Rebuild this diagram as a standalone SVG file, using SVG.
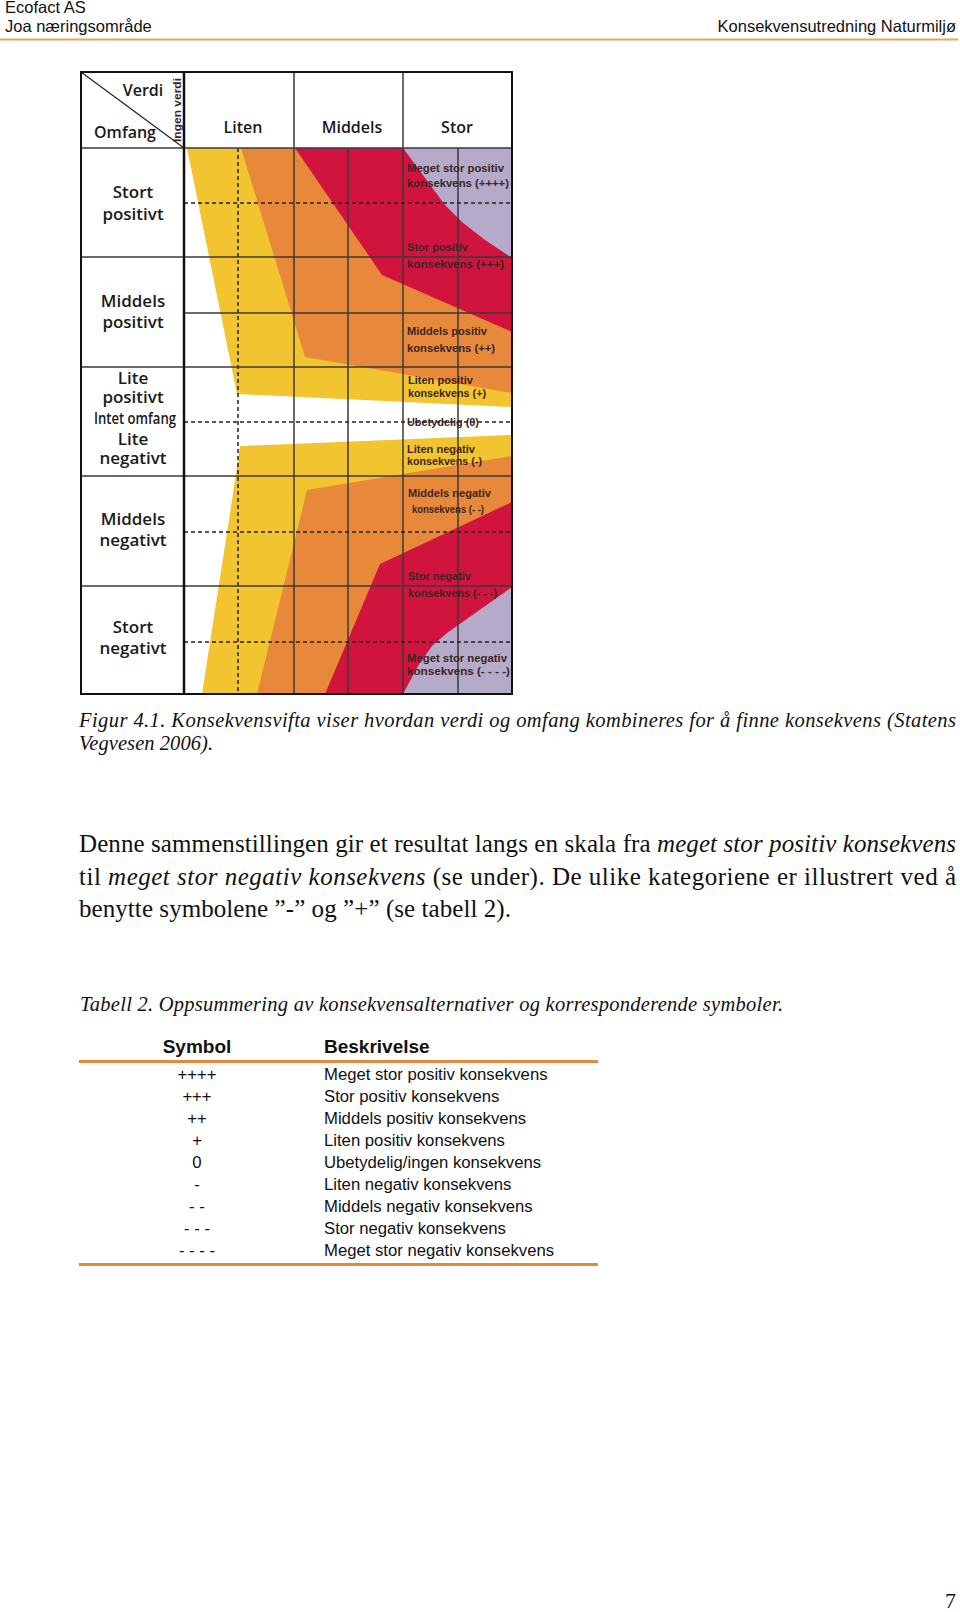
<svg xmlns="http://www.w3.org/2000/svg" width="960" height="1612" viewBox="0 0 960 1612">
<style>
.hdr{font-family:"Liberation Sans",Arial,sans-serif;font-size:16.5px;fill:#111}
.cap{font-family:"Liberation Serif","Times New Roman",serif;font-style:italic;font-size:20.5px;fill:#111}
.body{font-family:"Liberation Serif","Times New Roman",serif;font-size:25px;fill:#111}
.it{font-style:italic}
.big{font-family:"Open Sans","Noto Sans",sans-serif;font-weight:600;font-size:17px;fill:#1a1a1a;text-anchor:middle}
.col{font-family:"Open Sans","Noto Sans",sans-serif;font-weight:600;font-size:16px;fill:#1a1a1a;text-anchor:middle}
.sm{font-family:"Liberation Sans",Arial,sans-serif;font-weight:bold;font-size:11.5px;fill:#3a2626}
.th{font-family:"Liberation Sans",Arial,sans-serif;font-weight:bold;font-size:19px;fill:#111}
.td{font-family:"Liberation Sans",Arial,sans-serif;font-size:16.7px;fill:#111}
.mid{text-anchor:middle}
.g{stroke:#3a3a3a;stroke-width:1.5;fill:none}
.d{stroke:#222;stroke-width:1.5;stroke-dasharray:4 3;fill:none}
.ol{stroke:#e08a3c;stroke-width:3}
</style>

<g id="page-header">
<text class="hdr" x="5" y="13">Ecofact AS</text>
<text class="hdr" x="5" y="32">Joa næringsområde</text>
<text class="hdr" x="956" y="32" text-anchor="end">Konsekvensutredning Naturmiljø</text>
<line x1="0" y1="39.5" x2="958" y2="39.5" stroke="#e8a35e" stroke-width="2"/>
</g>

<g id="chart">
<rect x="81" y="72" width="431" height="622" fill="#fff"/>
<g id="fills">
<polygon fill="#f2c530" points="187,148 512,148 512,407 237,394"/>
<polygon fill="#e8883a" points="241,148 512,148 512,393 305,357"/>
<polygon fill="#d0143e" points="295,148 512,148 512,332 382,275"/>
<polygon fill="#b6aacb" points="403,148 512,148 512,258 485,240 462,222 445,205"/>
<polygon fill="#f2c530" points="240,446 512,435 512,694 202,694 232,500"/>
<polygon fill="#e8883a" points="307,490 512,456 512,694 257,694"/>
<polygon fill="#d0143e" points="380,564 512,502 512,694 325,694"/>
<polygon fill="#b6aacb" points="447,633 512,587 512,694 403,694 418,666 432,646"/>
</g>
<g id="grid">
<line class="g" x1="294" y1="72" x2="294" y2="694"/>
<line class="g" x1="403" y1="72" x2="403" y2="694"/>
<line class="g" x1="348" y1="148" x2="348" y2="694"/>
<line class="g" x1="458" y1="148" x2="458" y2="694"/>
<line class="d" x1="238" y1="148" x2="238" y2="694"/>
<line class="g" x1="81" y1="148" x2="512" y2="148"/>
<line class="g" x1="81" y1="257" x2="512" y2="257"/>
<line class="g" x1="81" y1="367" x2="512" y2="367"/>
<line class="g" x1="81" y1="476" x2="512" y2="476"/>
<line class="g" x1="81" y1="586" x2="512" y2="586"/>
<line class="d" x1="184" y1="203" x2="512" y2="203"/>
<line class="g" x1="184" y1="313" x2="512" y2="313"/>
<line class="d" x1="184" y1="422" x2="512" y2="422"/>
<line class="d" x1="184" y1="532" x2="512" y2="532"/>
<line class="d" x1="184" y1="642" x2="512" y2="642"/>
<line x1="184" y1="72" x2="184" y2="694" stroke="#111" stroke-width="2.5"/>
<line x1="81" y1="72" x2="184" y2="148" stroke="#222" stroke-width="1.2"/>
<rect x="81" y="72" width="431" height="622" fill="none" stroke="#111" stroke-width="2"/>
</g>
<g id="axis-labels">
<text class="col" x="143" y="96" font-size="16.5">Verdi</text>
<text class="col" x="125" y="138" font-size="17">Omfang</text>
<text class="sm" transform="translate(181,148) rotate(-90)" font-size="11.5" textLength="64" lengthAdjust="spacingAndGlyphs" x="6" y="0" fill="#1a1a1a">Ingen verdi</text>
<text class="col" x="243" y="133">Liten</text>
<text class="col" x="352" y="133">Middels</text>
<text class="col" x="457" y="133">Stor</text>
<text class="big" x="133" y="198">Stort</text>
<text class="big" x="133" y="220">positivt</text>
<text class="big" x="133" y="307">Middels</text>
<text class="big" x="133" y="328">positivt</text>
<text class="big" x="133" y="384" font-size="16">Lite</text>
<text class="big" x="133" y="403" font-size="16">positivt</text>
<text class="big" x="135" y="424" font-size="13.5" textLength="82" lengthAdjust="spacingAndGlyphs">Intet omfang</text>
<text class="big" x="133" y="445" font-size="16">Lite</text>
<text class="big" x="133" y="464" font-size="16">negativt</text>
<text class="big" x="133" y="525">Middels</text>
<text class="big" x="133" y="546">negativt</text>
<text class="big" x="133" y="633">Stort</text>
<text class="big" x="133" y="654">negativt</text>
</g>
<g id="consequence-labels">
<text class="sm" x="407" y="172" textLength="97" lengthAdjust="spacingAndGlyphs">Meget stor positiv</text>
<text class="sm" x="407" y="187" textLength="102" lengthAdjust="spacingAndGlyphs">konsekvens (++++)</text>
<text class="sm" x="407" y="251" textLength="61" lengthAdjust="spacingAndGlyphs">Stor positiv</text>
<text class="sm" x="407" y="268" textLength="97" lengthAdjust="spacingAndGlyphs">konsekvens (+++)</text>
<text class="sm" x="407" y="335" textLength="80" lengthAdjust="spacingAndGlyphs">Middels positiv</text>
<text class="sm" x="407" y="352" textLength="88" lengthAdjust="spacingAndGlyphs">konsekvens (++)</text>
<text class="sm" x="408" y="384" textLength="65" lengthAdjust="spacingAndGlyphs">Liten positiv</text>
<text class="sm" x="408" y="397" textLength="78" lengthAdjust="spacingAndGlyphs">konsekvens (+)</text>
<text class="sm" x="407" y="426" textLength="72" lengthAdjust="spacingAndGlyphs">Ubetydelig (0)</text>
<text class="sm" x="407" y="453" textLength="68" lengthAdjust="spacingAndGlyphs">Liten negativ</text>
<text class="sm" x="407" y="465" textLength="75" lengthAdjust="spacingAndGlyphs">konsekvens (-)</text>
<text class="sm" x="408" y="497" textLength="83" lengthAdjust="spacingAndGlyphs">Middels negativ</text>
<text class="sm" x="412" y="513" textLength="72" lengthAdjust="spacingAndGlyphs">konsekvens (- -)</text>
<text class="sm" x="408" y="580" textLength="63" lengthAdjust="spacingAndGlyphs">Stor negativ</text>
<text class="sm" x="408" y="597" textLength="89" lengthAdjust="spacingAndGlyphs">konsekvens (- - -)</text>
<text class="sm" x="407" y="662" textLength="100" lengthAdjust="spacingAndGlyphs">Meget stor negativ</text>
<text class="sm" x="407" y="675" textLength="103" lengthAdjust="spacingAndGlyphs">konsekvens (- - - -)</text>
</g>
</g>

<g id="caption">
<text class="cap" x="79" y="727" textLength="877" lengthAdjust="spacing">Figur 4.1. Konsekvensvifta viser hvordan verdi og omfang kombineres for å finne konsekvens (Statens</text>
<text class="cap" x="79" y="750" textLength="134" lengthAdjust="spacing">Vegvesen 2006).</text>
</g>

<g id="paragraph">
<text class="body" x="79" y="852" textLength="877" lengthAdjust="spacing">Denne sammenstillingen gir et resultat langs en skala fra <tspan class="it">meget stor positiv konsekvens</tspan></text>
<text class="body" x="79" y="885" textLength="877" lengthAdjust="spacing">til <tspan class="it">meget stor negativ konsekvens</tspan> (se under). De ulike kategoriene er illustrert ved å</text>
<text class="body" x="79" y="917" textLength="432" lengthAdjust="spacing">benytte symbolene ”-” og ”+” (se tabell 2).</text>
</g>

<g id="table">
<text class="cap" x="80" y="1011" textLength="703" lengthAdjust="spacing">Tabell 2. Oppsummering av konsekvensalternativer og korresponderende symboler.</text>
<text class="th mid" x="197" y="1053">Symbol</text>
<text class="th" x="324" y="1053">Beskrivelse</text>
<line class="ol" x1="79" y1="1061.5" x2="598" y2="1061.5"/>
<g class="td">
<text class="mid" x="197" y="1080">++++</text><text x="324" y="1080">Meget stor positiv konsekvens</text>
<text class="mid" x="197" y="1102">+++</text><text x="324" y="1102">Stor positiv konsekvens</text>
<text class="mid" x="197" y="1124">++</text><text x="324" y="1124">Middels positiv konsekvens</text>
<text class="mid" x="197" y="1146">+</text><text x="324" y="1146">Liten positiv konsekvens</text>
<text class="mid" x="197" y="1168">0</text><text x="324" y="1168">Ubetydelig/ingen konsekvens</text>
<text class="mid" x="197" y="1190">-</text><text x="324" y="1190">Liten negativ konsekvens</text>
<text class="mid" x="197" y="1212">- -</text><text x="324" y="1212">Middels negativ konsekvens</text>
<text class="mid" x="197" y="1234">- - -</text><text x="324" y="1234">Stor negativ konsekvens</text>
<text class="mid" x="197" y="1256">- - - -</text><text x="324" y="1256">Meget stor negativ konsekvens</text>
</g>
<line class="ol" x1="79" y1="1264.5" x2="598" y2="1264.5"/>
</g>

<g id="page-number">
<text x="956" y="1608" text-anchor="end" font-family="Liberation Serif,'Times New Roman',serif" font-size="22" fill="#111">7</text>
</g>
</svg>
